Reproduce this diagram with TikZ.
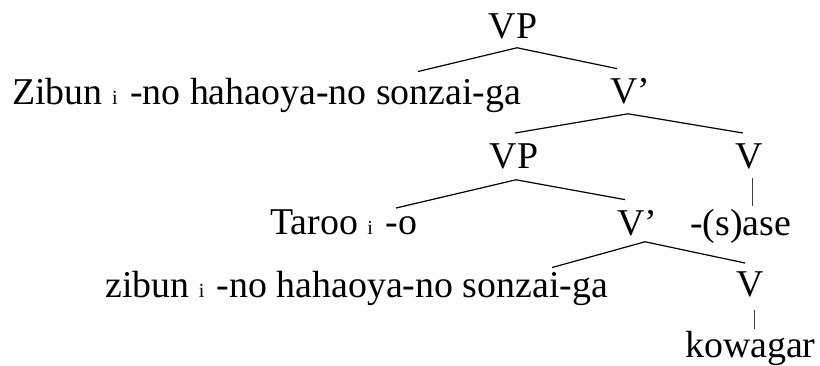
\documentclass[tikz,border=0pt]{standalone}
\usepackage{fontspec}
\setmainfont{Liberation Serif}

\tikzset{
  cat/.style={anchor=base, inner sep=0pt},
  word/.style={anchor=base west, inner sep=0pt},
  branch/.style={line width=1.2bp},
  stem/.style={line width=0.7bp, black!75}
}
\newcommand{\idx}{{\fontsize{20}{20}\selectfont i}\hspace{0.08em}}

\begin{document}
\begin{tikzpicture}[x=1bp,y=-1bp,font=\fontsize{38}{40}\selectfont]
  \useasboundingbox (0,0) rectangle (820,365);
  % top VP
  \node[cat] (vp1) at (513,38) {VP};
  \node[word] (subj1) at (12,104) {Zibun \idx{} -no hahaoya-no sonzai-ga};
  \node[cat] (vbar1) at (630,103) {V'};
  \draw[branch] ([xshift=406bp,yshift=6bp]subj1.north west)
    -- ([xshift=4bp,yshift=-9bp]vp1.south)
    -- ([xshift=-13bp,yshift=9bp]vbar1.north);
  % V' over VP and V
  \node[cat] (vp2) at (514,168) {VP};
  \node[cat] (v1) at (749,168) {V};
  \draw[branch] ([xshift=1bp,yshift=10bp]vp2.north)
    -- ([xshift=-2bp,yshift=-10bp]vbar1.south)
    -- ([xshift=-6bp,yshift=10bp]v1.north);
  % lower VP
  \node[word] (obj) at (270,234) {Taroo \idx{} -o};
  \node[cat] (vbar2) at (637,235) {V'};
  \draw[branch] ([xshift=126bp,yshift=1bp]obj.north west)
    -- ([xshift=2bp,yshift=-11bp]vp2.south)
    -- ([xshift=-12bp,yshift=10bp]vbar2.north);
  % causative
  \node[word] (caus) at (690,235) {-(s)ase};
  \draw[stem] ([xshift=3bp,yshift=-9bp]v1.south)
    -- ([xshift=3bp,yshift=3bp]v1.south |- caus.north);
  % lowest V'
  \node[word] (subj2) at (105,297) {zibun \idx{} -no hahaoya-no sonzai-ga};
  \node[cat] (v2) at (750,296) {V};
  \draw[branch] ([xshift=447bp,yshift=3bp]subj2.north west)
    -- ([xshift=8bp,yshift=-6bp]vbar2.south)
    -- ([xshift=-5bp,yshift=8bp]v2.north);
  % verb root
  \node[word] (root) at (685,357) {kowagar};
  \draw[stem] ([xshift=4bp,yshift=-13bp]v2.south)
    -- ([xshift=4bp,yshift=2bp]v2.south |- root.north);
\end{tikzpicture}
\end{document}
